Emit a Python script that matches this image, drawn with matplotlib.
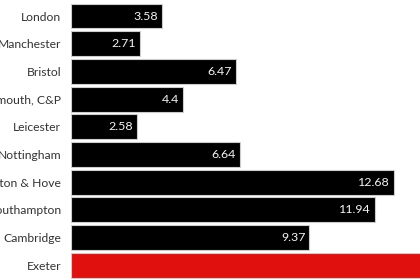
import matplotlib
matplotlib.use("Agg")
import matplotlib.pyplot as plt

cities = ["London", "Manchester", "Bristol", "Portsmouth, C&P", "Leicester",
          "Nottingham", "Brighton & Hove", "Southampton", "Cambridge", "Exeter"]
values = [3.58, 2.71, 6.47, 4.4, 2.58, 6.64, 12.68, 11.94, 9.37, 24.0]
colors = ["#000000"] * 9 + ["#e0100f"]
show_label = [True] * 9 + [False]

plt.rcParams["font.family"] = ["Lato", "DejaVu Sans"]

fig = plt.figure(figsize=(4.2, 2.8), dpi=100)
ax = fig.add_axes([71 / 420, 0, 1 - 71 / 420, 1])

ypos = list(range(len(cities)))
bars = ax.barh(ypos, values, height=0.9, color=colors,
               edgecolor="#cccccc", linewidth=0.8)

for bar, v, show in zip(bars, values, show_label):
    if show:
        ax.text(v - 0.15, bar.get_y() + bar.get_height() / 2, f"{v:g}",
                ha="right", va="center", color="#f4f4f4", fontsize=8.9)

ax.set_yticks(ypos)
ax.set_yticklabels(cities, fontsize=8.7, color="#333333")
ax.tick_params(axis="y", length=0, pad=7)
ax.set_xticks([])
ax.set_xlim(0, 349 / 25.45)
ax.set_ylim(9.54, -0.58)
for s in ax.spines.values():
    s.set_visible(False)

fig.savefig("out.png", dpi=100)
